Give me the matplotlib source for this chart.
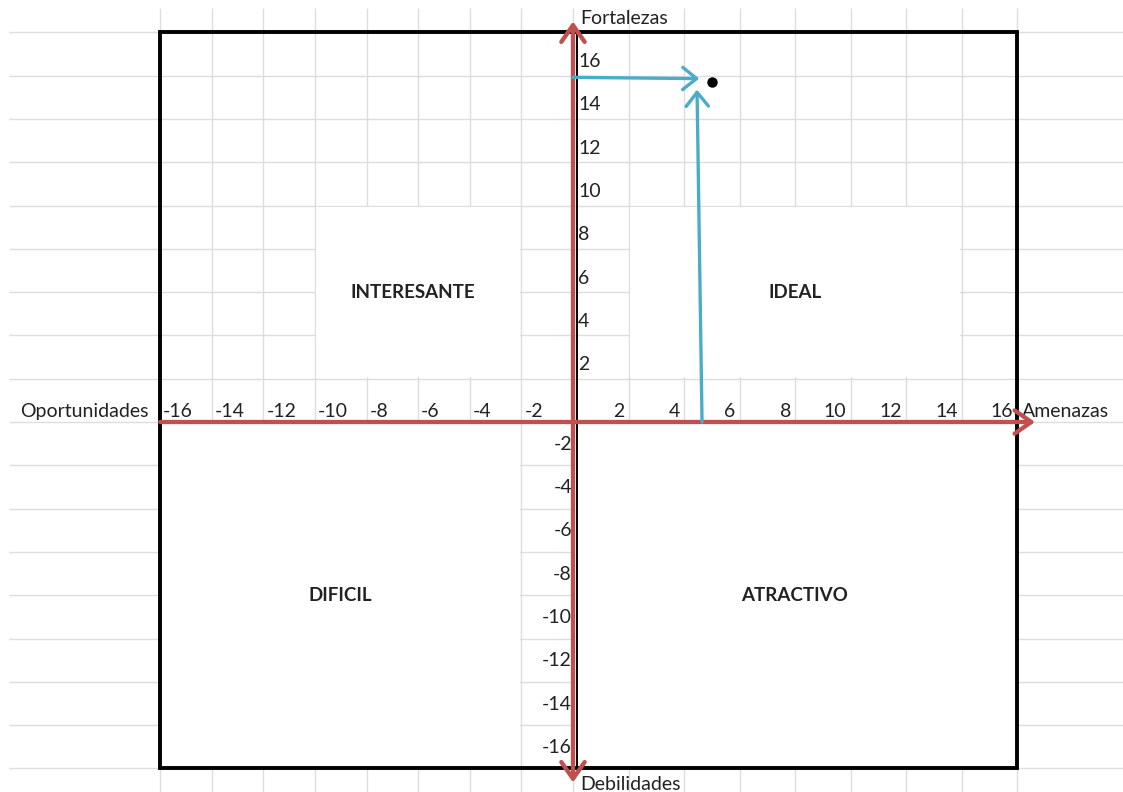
import numpy as np
import matplotlib.pyplot as plt
from matplotlib.patches import Rectangle

plt.rcParams['font.family'] = ['Lato', 'DejaVu Sans']

# --- values ---
x_ticks_neg = [-16, -14, -12, -10, -8, -6, -4, -2]
x_ticks_pos = [2, 4, 6, 8, 10, 12, 14, 16]
y_ticks_pos = [16, 14, 12, 10, 8, 6, 4, 2]
y_ticks_neg = [-2, -4, -6, -8, -10, -12, -14, -16]

quadrant_names = ['INTERESANTE', 'IDEAL', 'DIFICIL', 'ATRACTIVO']
quadrant_x = [-6.2, 8, -9, 8]
quadrant_y = [6, 6, -8, -8]
# merged cells (x0, x1, y0, y1) that hide the sheet gridlines
quadrant_cells = [(-10, -2, 2, 10), (2, 14, 2, 10), (-16, -2, -16, 0), (0, 16, -16, 0)]

point_x = [5.0]
point_y = [15.7]
guide_h_x = [0.0, 4.55]
guide_h_y = [15.92, 15.86]
guide_v_x = [4.65, 4.47]
guide_v_y = [0.0, 15.35]

col_edges = np.arange(-16, 17, 2)
row_edges = np.arange(-18, 19, 2)

red = '#C0504D'
blue = '#4BACC6'
grid_color = '#DDDDDD'

# sheet columns are a bit narrower left of the axis than right of it
px_neg = 25.8
px_pos = 27.75
px_row = 21.65


def fwd(x):
    x = np.asarray(x, dtype=float)
    return np.where(x < 0, x * px_neg, x * px_pos)


def inv(p):
    p = np.asarray(p, dtype=float)
    return np.where(p < 0, p / px_neg, p / px_pos)


fig = plt.figure(figsize=(11.23, 7.92), dpi=100)
ax = fig.add_axes([0, 0, 1, 1])
ax.set_xscale('function', functions=(fwd, inv))
ax.set_xlim(-573 / px_neg, 550 / px_pos)
ax.set_ylim(-370 / px_row, 422 / px_row)
ax.axis('off')

# spreadsheet gridlines
x_left, x_right = -564 / px_neg, 550 / px_pos
y_top = 414 / px_row
ax.hlines(row_edges, x_left, x_right, color=grid_color, lw=1.0, zorder=1)
ax.vlines(col_edges, -18, y_top, color=grid_color, lw=1.0, zorder=1)
for x0, x1, y0, y1 in quadrant_cells:
    ax.add_patch(Rectangle((x0 + 0.05, y0 + 0.06), x1 - x0 - 0.1, y1 - y0 - 0.12,
                           fc='white', ec='none', zorder=1.5))

# outer frame and divider
ax.add_patch(Rectangle((-16, -16), 32, 34, fill=False, ec='black', lw=2.8,
                       joinstyle='miter', zorder=3))
ax.plot([0.15, 0.15], [-16, 18], color='black', lw=1.4, zorder=3)

# red axes
red_style = '->,head_length=0.6,head_width=0.42'
ax.annotate('', xy=(16.65, 0), xytext=(-16, 0),
            arrowprops=dict(arrowstyle=red_style, mutation_scale=20, lw=3.1,
                            color=red, shrinkA=0, shrinkB=0), zorder=4)
ax.annotate('', xy=(0, 18.5), xytext=(0, -16.65),
            arrowprops=dict(arrowstyle='<' + red_style, mutation_scale=20, lw=3.1,
                            color=red, shrinkA=0, shrinkB=0), zorder=4)

# blue guides and the point
blue_style = '->,head_length=0.5,head_width=0.4'
ax.annotate('', xy=(guide_h_x[1], guide_h_y[1]), xytext=(guide_h_x[0], guide_h_y[0]),
            arrowprops=dict(arrowstyle=blue_style, mutation_scale=20, lw=2.4,
                            color=blue, shrinkA=0, shrinkB=0), zorder=5)
ax.annotate('', xy=(guide_v_x[1], guide_v_y[1]), xytext=(guide_v_x[0], guide_v_y[0]),
            arrowprops=dict(arrowstyle=blue_style, mutation_scale=20, lw=2.4,
                            color=blue, shrinkA=0, shrinkB=0), zorder=5)
ax.plot(point_x, point_y, 'o', color='black', ms=6.5, zorder=6)

# tick labels
fs = 14
tc = '#222222'
for v in x_ticks_neg:
    ax.annotate(str(v), (v, 0), xytext=(3, 11), textcoords='offset pixels',
                ha='left', va='center', fontsize=fs, color=tc)
for v in x_ticks_pos:
    ax.annotate(str(v), (v, 0), xytext=(-4, 11), textcoords='offset pixels',
                ha='right', va='center', fontsize=fs, color=tc)
for v in y_ticks_pos:
    ax.annotate(str(v), (0, v), xytext=(5, 14), textcoords='offset pixels',
                ha='left', va='center', fontsize=fs, color=tc)
for v in y_ticks_neg:
    ax.annotate(str(v), (0, v), xytext=(-1, 21), textcoords='offset pixels',
                ha='right', va='center', fontsize=fs, color=tc)

# axis names
ax.annotate('Oportunidades', (-16, 0), xytext=(-12, 11), textcoords='offset pixels',
            ha='right', va='center', fontsize=fs, color=tc)
ax.annotate('Amenazas', (16, 0), xytext=(5, 11), textcoords='offset pixels',
            ha='left', va='center', fontsize=fs, color=tc)
ax.annotate('Fortalezas', (0, 18), xytext=(7, 14), textcoords='offset pixels',
            ha='left', va='center', fontsize=fs, color=tc)
ax.annotate('Debilidades', (0, -16), xytext=(7, -16), textcoords='offset pixels',
            ha='left', va='center', fontsize=fs, color=tc)

# quadrant names
for name, qx, qy in zip(quadrant_names, quadrant_x, quadrant_y):
    ax.text(qx, qy, name, ha='center', va='center', fontsize=13.5,
            fontweight='bold', color=tc, zorder=2)

fig.savefig('out.png', dpi=100)
